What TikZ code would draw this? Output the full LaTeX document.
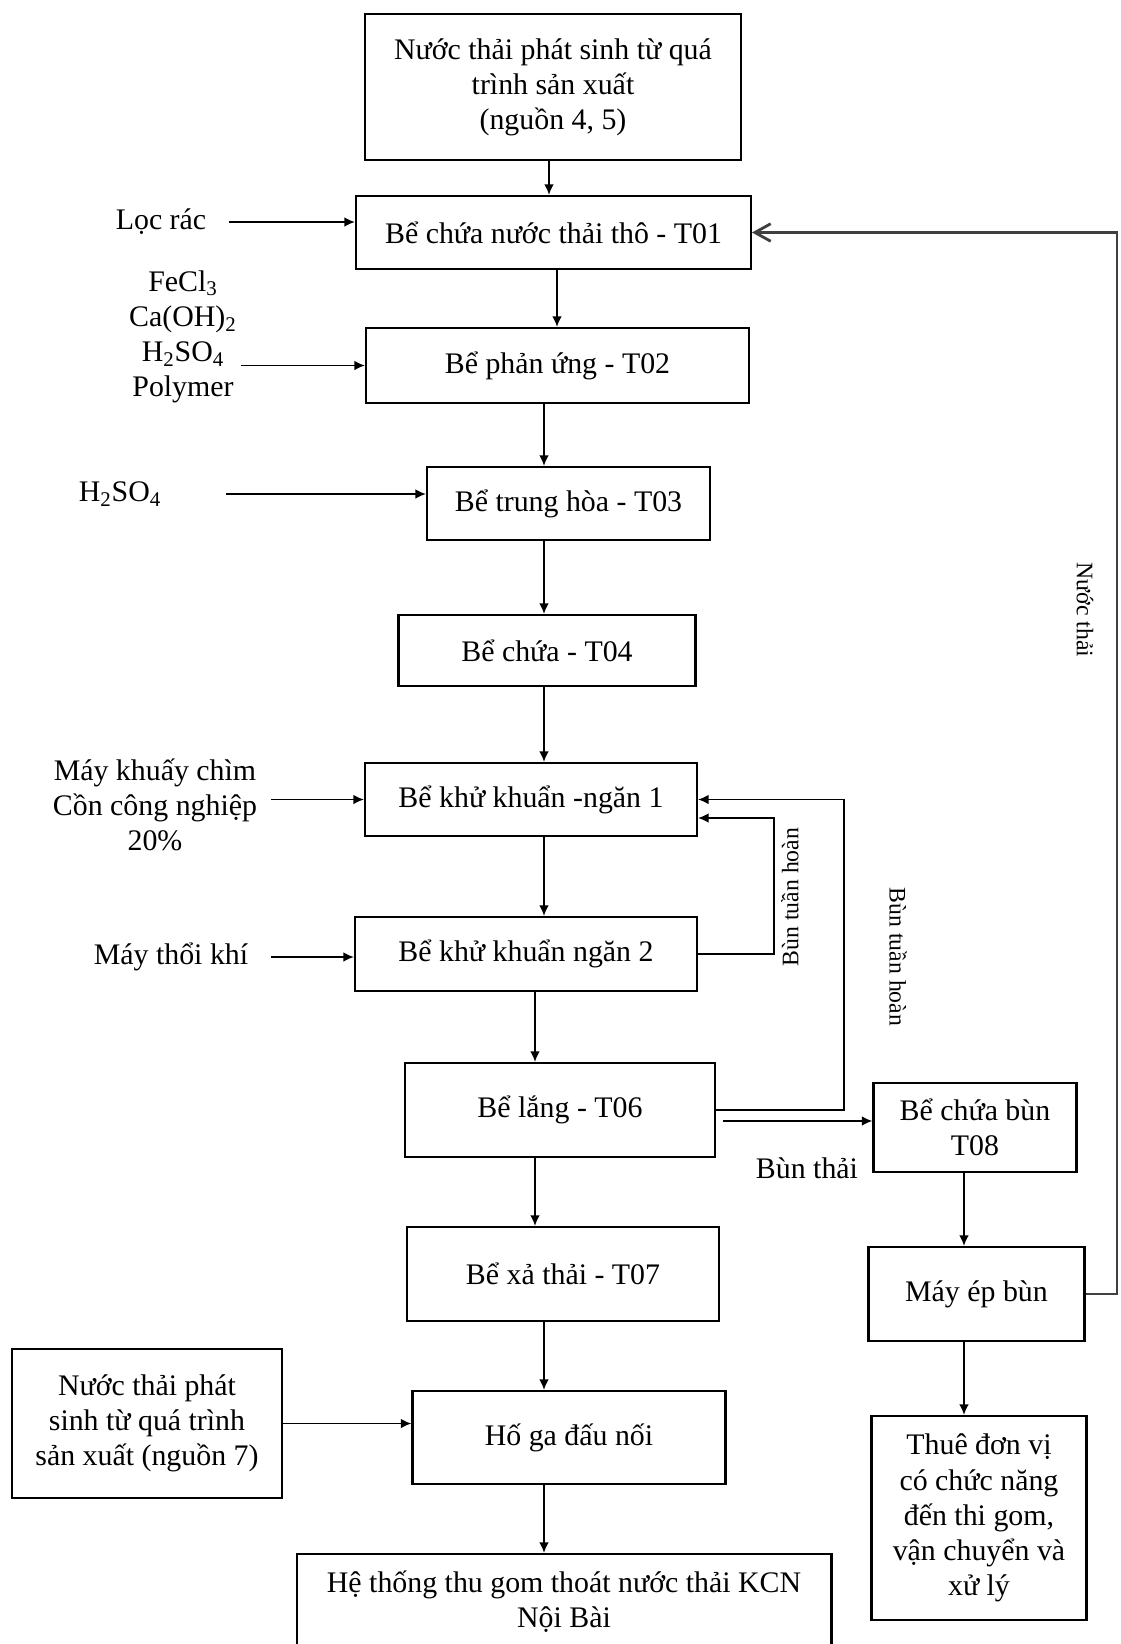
\documentclass[tikz,border=0pt]{standalone}
\usepackage{fontspec}
\setmainfont{Liberation Serif}
\usetikzlibrary{arrows.meta}

\tikzset{
  box/.style={draw, line width=1.2pt, align=center, inner sep=0pt, font=\fontsize{17}{20}\selectfont},
  lbl/.style={align=center, inner sep=0pt, font=\fontsize{17}{20}\selectfont},
  side/.style={inner sep=0pt, font=\fontsize{13.5}{16}\selectfont},
  feed/.style={line width=1.1pt, -{Latex[length=6pt,width=5.5pt]}},
  ret/.style={line width=1.6pt, draw=black!75, -{Straight Barb[length=9pt,width=10pt]}}
}

\begin{document}
\begin{tikzpicture}[x=0.02cm, y=-0.02cm]
\path[use as bounding box, fill=white] (0,0) rectangle (1121,1644);

% main line
\node[box, minimum width=7.52cm, minimum height=2.92cm] (src) at (553,87) {Nước thải phát sinh từ quá\\ trình sản xuất\\ (nguồn 4, 5)};
\node[box, minimum width=7.9cm, minimum height=1.46cm] (T01) at (553.5,232.5) {Bể chứa nước thải thô - T01};
\node[box, minimum width=7.66cm, minimum height=1.5cm] (T02) at (557.5,365.5) {Bể phản ứng - T02};
\node[box, minimum width=5.66cm, minimum height=1.46cm] (T03) at (568.5,503.5) {Bể trung hòa - T03};
\node[box, minimum width=5.94cm, minimum height=1.42cm] (T04) at (547,650.5) {Bể chứa - T04};
\node[box, minimum width=6.64cm, minimum height=1.46cm] (ngan1) at (531,799.5) {Bể khử khuẩn -ngăn 1};
\node[box, minimum width=6.84cm, minimum height=1.48cm] (ngan2) at (526,954) {Bể khử khuẩn ngăn 2};
\node[box, minimum width=6.2cm, minimum height=1.88cm] (T06) at (560,1110) {Bể lắng - T06};
\node[box, minimum width=6.24cm, minimum height=1.88cm] (T07) at (563,1274) {Bể xả thải - T07};
\node[box, minimum width=6.26cm, minimum height=1.86cm] (hoga) at (569,1437.5) {Hố ga đấu nối};
\node[box, minimum width=10.7cm, minimum height=1.92cm] (heth) at (564,1602) {Hệ thống thu gom thoát nước thải KCN\\ Nội Bài};

% sludge line
\node[box, minimum width=4.06cm, minimum height=1.78cm] (T08) at (975,1127.5) {Bể chứa bùn\\ T08};
\node[box, minimum width=4.32cm, minimum height=1.88cm] (mayep) at (976.5,1294) {Máy ép bùn};
\node[box, minimum width=4.3cm, minimum height=4.08cm] (thue) at (979,1518) {Thuê đơn vị\\ có chức năng\\ đến thi gom,\\ vận chuyển và\\ xử lý};
\node[box, minimum width=5.4cm, minimum height=2.98cm] (n7) at (147,1423.5) {Nước thải phát\\ sinh từ quá trình\\ sản xuất (nguồn 7)};

% inputs
\node[lbl] (locrac) at (161,222) {Lọc rác};
\node[lbl] (chem) at (183,337) {FeCl\textsubscript{3}\\ Ca(OH)\textsubscript{2}\\ H\textsubscript{2}SO\textsubscript{4}\\ Polymer};
\node[lbl] (h2so4) at (120,494) {H\textsubscript{2}SO\textsubscript{4}};
\node[lbl] (khuay) at (155,805) {Máy khuấy chìm\\ Cồn công nghiệp\\ 20\%};
\node[lbl] (thoi) at (171,957) {Máy thổi khí};
\node[lbl] (bunthai) at (807,1168) {Bùn thải};
\node[side, rotate=90] (tuanhoan1) at (790,897) {Bùn tuần hoàn};
\node[side, rotate=-90] (tuanhoan2) at (898,957) {Bùn tuần hoàn};
\node[side, rotate=-90] (nuocthai) at (1085,610) {Nước thải};

\coordinate (c1) at (549,0);
\coordinate (c2) at (557,0);
\coordinate (spine) at (544,0);
\coordinate (spineb) at (535,0);
\coordinate (col) at (964,0);
\coordinate (innerx) at (774,0);
\coordinate (outerx) at (844,0);
\coordinate (rightx) at (1117,0);
\coordinate (sludge) at ([yshift=-0.22cm]T06.east);

\draw[feed] (src.south -| c1) -- (T01.north -| c1);
\draw[feed] (T01.south -| c2) -- (T02.north -| c2);
\draw[feed] (T02.south -| spine) -- (T03.north -| spine);
\draw[feed] (T03.south -| spine) -- (T04.north -| spine);
\draw[feed] (T04.south -| spine) -- (ngan1.north -| spine);
\draw[feed] (ngan1.south -| spine) -- (ngan2.north -| spine);
\draw[feed] (ngan2.south -| spineb) -- (T06.north -| spineb);
\draw[feed] (T06.south -| spineb) -- (T07.north -| spineb);
\draw[feed] (T07.south -| spine) -- (hoga.north -| spine);
\draw[feed] (hoga.south -| spine) -- (heth.north -| spine);
\draw[feed] (T08.south -| col) -- (mayep.north -| col);
\draw[feed] (mayep.south -| col) -- (thue.north -| col);

\draw[feed, shorten <=0.44cm] (locrac.east) -- (locrac.east -| T01.west);
\draw[feed, shorten <=0.07cm] (chem.east |- T02.west) -- (T02.west);
\draw[feed, shorten <=1.28cm] (h2so4.east) -- (h2so4.east -| T03.west);
\draw[feed, shorten <=0.28cm] (khuay.east |- ngan1.west) -- (ngan1.west);
\draw[feed, shorten <=0.44cm] (thoi.east) -- (thoi.east -| ngan2.west);
\draw[feed] (n7.east) -- (n7.east -| hoga.west);

% recirculation
\draw[feed] (ngan2.east) -| (innerx |- 0,818) -- ([yshift=-0.37cm]ngan1.east);
\draw[feed] (T06.east) -| (outerx |- ngan1.east) -- (ngan1.east);
\draw[feed, shorten <=0.14cm] (sludge) -- (sludge -| T08.west);
\draw[ret] (mayep.east) -| (rightx |- T01.east) -- (T01.east);
\end{tikzpicture}
\end{document}
